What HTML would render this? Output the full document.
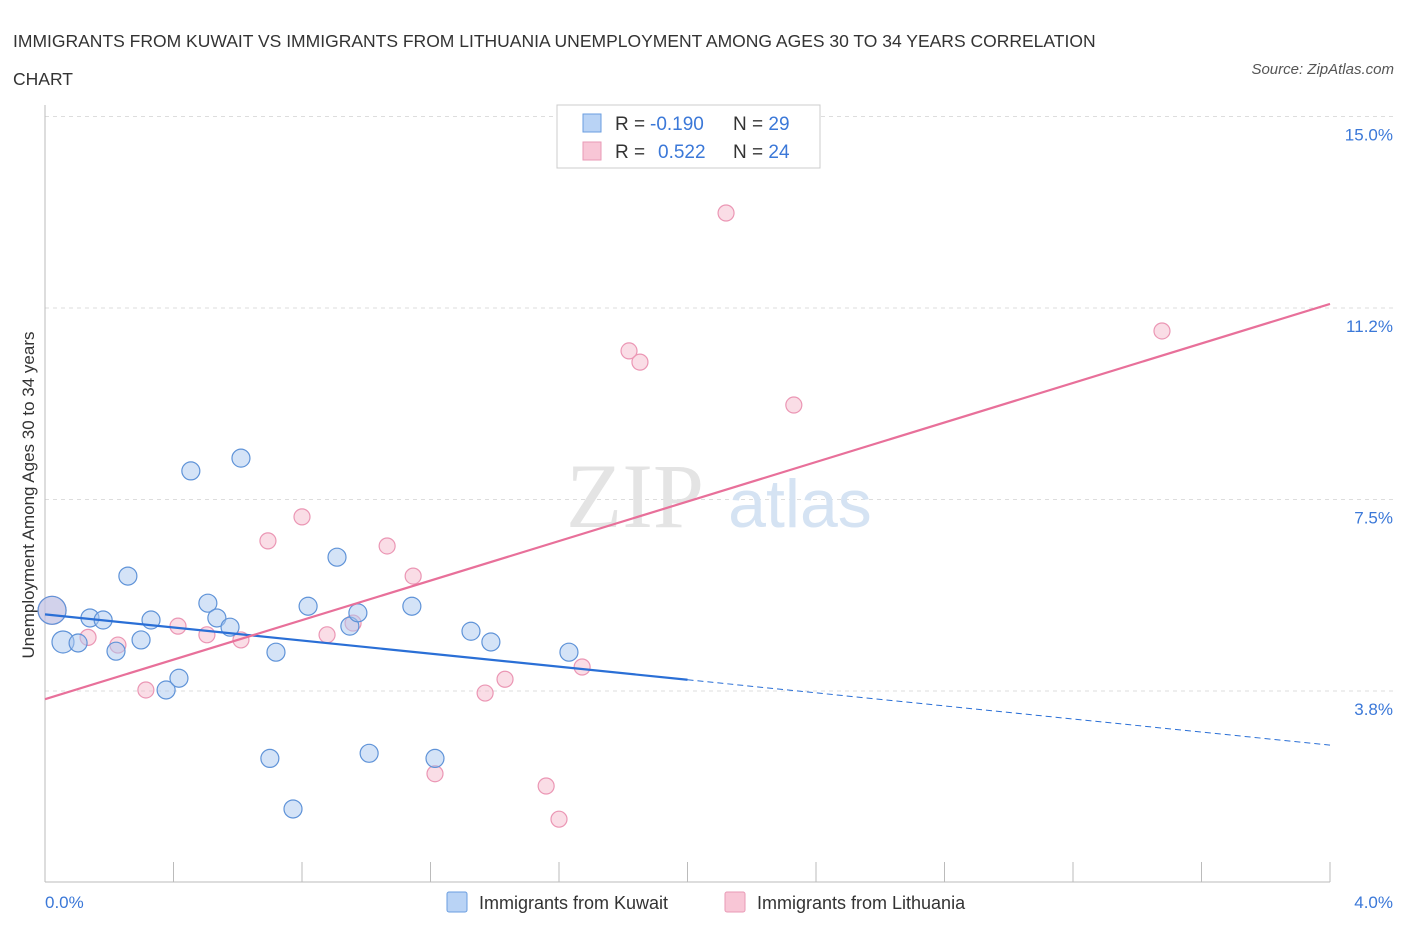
<!DOCTYPE html>
<html><head><meta charset="utf-8">
<style>
body{margin:0;background:#fff;font-family:"Liberation Sans",sans-serif;}
#wrap{position:relative;width:1406px;height:930px;overflow:hidden;}
.t{position:absolute;white-space:nowrap;}
</style></head>
<body><div id="wrap">
<div class="t" style="left:13px;top:22px;font-size:17.5px;color:#333;line-height:38px;">IMMIGRANTS FROM KUWAIT VS IMMIGRANTS FROM LITHUANIA UNEMPLOYMENT AMONG AGES 30 TO 34 YEARS CORRELATION<br>CHART</div>
<div class="t" style="right:12px;top:61px;font-size:15px;color:#555;font-style:italic;">Source: ZipAtlas.com</div>
<svg id="svg" width="1406" height="930" style="position:absolute;left:0;top:0"></svg>
</div>
<script>
const kuwaitX=[0.022,0.056,0.103,0.140,0.181,0.221,0.258,0.299,0.330,0.377,0.417,0.454,0.507,0.535,0.576,0.610,0.700,0.719,0.772,0.819,0.909,0.949,0.974,1.009,1.142,1.214,1.326,1.388,1.631];
const kuwaitY=[5.33,4.71,4.69,5.18,5.14,4.53,6.00,4.75,5.14,3.77,4.00,8.06,5.47,5.18,5.00,8.31,2.43,4.51,1.44,5.41,6.37,5.02,5.28,2.53,5.41,2.43,4.92,4.71,4.51];
const kuwaitR=[14,11,9,9,9,9,9,9,9,9,9,9,9,9,9,9,9,9,9,9,9,9,9,9,9,9,9,9,9];
const lithX=[0.022,0.134,0.227,0.314,0.414,0.504,0.610,0.694,0.800,0.878,0.959,1.065,1.146,1.214,1.370,1.432,1.560,1.600,1.672,1.818,1.852,2.120,2.331,3.477];
const lithY=[5.33,4.80,4.65,3.77,5.02,4.85,4.75,6.69,7.16,4.85,5.08,6.59,6.00,2.13,3.71,3.98,1.89,1.24,4.22,10.41,10.19,13.11,9.35,10.80];
const kuwaitTrend=[5.25,2.69];
const lithTrend=[3.59,11.33];
const yTicks=[3.8,7.5,11.2,15.0];
const yTickLabels=["3.8%","7.5%","11.2%","15.0%"];
const xTickLabels=["0.0%","4.0%"];

const X0=45,X1=1330,YB=882.5,PX=191.5/3.75;
const sx=v=>X0+(v/4)*(X1-X0);
const sy=v=>YB-v*PX;
const svg=document.getElementById('svg');
const NS='http://www.w3.org/2000/svg';
function mk(tag,attrs){const e=document.createElementNS(NS,tag);for(const k in attrs)e.setAttribute(k,attrs[k]);svg.appendChild(e);return e;}
// gridlines
[3.75,7.5,11.25,15].forEach((v,i)=>{
 const g=mk('line',{x1:X0,x2:1395,y1:sy(v),y2:sy(v),stroke:'#ddd','stroke-dasharray':'4,4'});
 
 
 const t=mk('text',{x:1393,y:sy(v)+24,'text-anchor':'end','font-size':17,fill:'#3b78d8','font-family':'Liberation Sans'});
 t.textContent=yTickLabels[i];
 
 
});
// axes
let a=mk('line',{x1:X0,x2:X0,y1:105,y2:882,stroke:'#bbb'});

a=mk('line',{x1:X0,x2:X1,y1:882,y2:882,stroke:'#bbb'});

for(let i=0;i<=10;i++){const x=X0+i*(X1-X0)/10;const tk=mk('line',{x1:x,x2:x,y1:862,y2:882,stroke:'#bbb'});
 
 }
let t=mk('text',{x:45,y:908,'font-size':17,fill:'#3b78d8','font-family':'Liberation Sans'});t.textContent=xTickLabels[0];

t=mk('text',{x:1393,y:908,'text-anchor':'end','font-size':17,fill:'#3b78d8','font-family':'Liberation Sans'});t.textContent=xTickLabels[1];

t=mk('text',{x:34,y:495,'text-anchor':'middle','font-size':17,fill:'#333','font-family':'Liberation Sans',transform:'rotate(-90 34 495)'});t.textContent='Unemployment Among Ages 30 to 34 years';

// watermark
t=mk('text',{x:635,y:527,'text-anchor':'middle','font-size':92,fill:'#e4e4e4','font-family':'Liberation Serif'});t.textContent='ZIP';

t=mk('text',{x:800,y:527,'text-anchor':'middle','font-size':68,fill:'#d5e3f3','font-family':'Liberation Sans'});t.textContent='atlas';

// points
lithX.forEach((v,i)=>{const c=mk('circle',{cx:sx(v),cy:sy(lithY[i]),r:i==0?14:8,fill:'rgba(245,180,200,0.45)',stroke:'#eb96b4','stroke-width':1.2});
 
 });
kuwaitX.forEach((v,i)=>{const c=mk('circle',{cx:sx(v),cy:sy(kuwaitY[i]),r:kuwaitR[i],fill:'rgba(170,200,240,0.5)',stroke:'#5f93d8','stroke-width':1.2});
 
 });
// trend lines
const kMid=kuwaitTrend[0]+(kuwaitTrend[1]-kuwaitTrend[0])*(2/4);
let l=mk('line',{x1:sx(0),y1:sy(kuwaitTrend[0]),x2:sx(2),y2:sy(kMid),stroke:'#2a6fd6','stroke-width':2.2});

l=mk('line',{x1:sx(2),y1:sy(kMid),x2:sx(4),y2:sy(kuwaitTrend[1]),stroke:'#2a6fd6','stroke-width':1,'stroke-dasharray':'6,4'});

l=mk('line',{x1:sx(0),y1:sy(lithTrend[0]),x2:sx(4),y2:sy(lithTrend[1]),stroke:'#e8709a','stroke-width':2.2});

// legend box
let r=mk('rect',{x:557,y:105,width:263,height:63,fill:'#fff',stroke:'#ccc'});

[[0,'#b9d3f5','#6a9ee0','-0.190','29'],[1,'#f8c6d6','#e99ab6','0.522','24']].forEach(d=>{
 const y=123+d[0]*28;
 const s=mk('rect',{x:583,y:y-9,width:18,height:18,fill:d[1],stroke:d[2]});
 
 const tx=mk('text',{x:615,y:y+7,'font-size':19,fill:'#333','font-family':'Liberation Sans'});
 tx.innerHTML='R = <tspan fill="#3b78d8" x="'+(d[0]?658:650)+'">'+d[3]+'</tspan><tspan x="733" fill="#333">N = </tspan><tspan fill="#3b78d8">'+d[4]+'</tspan>';
 
});
// bottom legend
[[447,'#b9d3f5','#6a9ee0','Immigrants from Kuwait'],[725,'#f8c6d6','#e99ab6','Immigrants from Lithuania']].forEach(d=>{
 const s=mk('rect',{x:d[0],y:892,width:20,height:20,fill:d[1],stroke:d[2],rx:2});
 
 const tx=mk('text',{x:d[0]+32,y:909,'font-size':18,fill:'#333','font-family':'Liberation Sans'});tx.textContent=d[3];
 
});
</script>
</body></html>
